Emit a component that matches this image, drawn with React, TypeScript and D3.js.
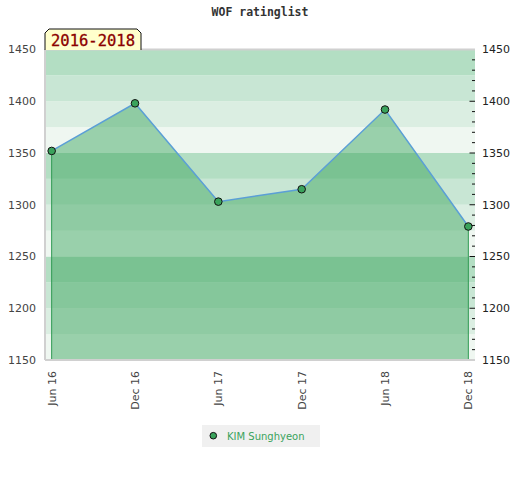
import * as d3 from 'd3';

const width = 520;
const height = 480;
const plotLeft = 45;
const plotRight = 475;
const plotTop = 49.5;
const plotBottom = 360;

const chartTitle = 'WOF ratinglist';
const periodLabel = '2016-2018';
const playerName = 'KIM Sunghyeon';
const months = ['Jun 16', 'Dec 16', 'Jun 17', 'Dec 17', 'Jun 18', 'Dec 18'];
const ratings = [1352, 1398, 1303, 1315, 1392, 1279];
const yDomain = [1150, 1450];
const yLabels = [1150, 1200, 1250, 1300, 1350, 1400, 1450];

// darkest -> lightest, repeating every 100 points
const bandColors = ['#b3dec3', '#c8e6d4', '#dbeee2', '#eff7f1'];
const green = '#3aa35c';

const x = d3.scalePoint<string>().domain(months).range([plotLeft, plotRight]).padding(0.08);
const y = d3.scaleLinear().domain(yDomain).range([plotBottom, plotTop]);

const bands = d3.range(yDomain[0], yDomain[1], 25);
const minorTicks = d3.range(yDomain[0] + 10, yDomain[1], 10);

type Pt = { m: string; v: number };
const points: Pt[] = months.map((m, i) => ({ m, v: ratings[i] }));
const edges = [points[0], points[points.length - 1]];

const area = d3
  .area<Pt>()
  .x((d) => x(d.m)!)
  .y0(y(yDomain[0]))
  .y1((d) => y(d.v));

const line = d3
  .line<Pt>()
  .x((d) => x(d.m)!)
  .y((d) => y(d.v));

const sans = '"DejaVu Sans", Verdana, sans-serif';
const mono = '"DejaVu Sans Mono", monospace';

export default function App() {
  return (
    <svg
      width={width}
      height={height}
      style={{ position: 'absolute', left: 0, top: 0, background: '#fff' }}
    >
      {/* title */}
      <text
        x={260}
        y={16}
        textAnchor="middle"
        fontFamily={mono}
        fontWeight="bold"
        fontSize={11.5}
        fill="#333"
      >
        {chartTitle}
      </text>

      {/* background bands */}
      {bands.map((v) => (
        <rect
          key={v}
          x={plotLeft}
          y={y(v + 25)}
          width={plotRight - plotLeft}
          height={y(v) - y(v + 25)}
          fill={bandColors[3 - (((v - yDomain[0]) / 25) % 4)]}
        />
      ))}

      {/* area + line */}
      <path d={area(points)!} fill={green} fillOpacity={0.47} />
      {edges.map((d) => (
        <line
          key={d.m}
          x1={x(d.m)}
          x2={x(d.m)}
          y1={y(d.v)}
          y2={plotBottom}
          stroke="#2f9a52"
          strokeWidth={1}
        />
      ))}

      {/* frame */}
      <line x1={plotLeft} x2={plotRight} y1={plotTop} y2={plotTop} stroke="#d0d0d0" strokeWidth={2} />
      <line x1={plotLeft} x2={plotRight} y1={plotBottom} y2={plotBottom} stroke="#d0d0d0" strokeWidth={2} />
      <line x1={plotLeft} x2={plotLeft} y1={plotTop} y2={plotBottom} stroke="#d0d0d0" strokeWidth={2} />

      <path d={line(points)!} fill="none" stroke="#5b9fd6" strokeWidth={1.5} />
      {points.map((d) => (
        <circle key={d.m} cx={x(d.m)} cy={y(d.v)} r={3.8} fill={green} stroke="#111" strokeWidth={1} />
      ))}

      {/* left axis labels */}
      {yLabels.map((v) => (
        <text key={v} x={36} y={y(v)} dy="0.35em" textAnchor="end" fontFamily={sans} fontSize={11} fill="#444">
          {v}
        </text>
      ))}

      {/* right axis ticks and labels */}
      {minorTicks.map((v) => (
        <line
          key={v}
          x1={v % 50 === 0 ? 469.5 : 472}
          x2={475}
          y1={y(v)}
          y2={y(v)}
          stroke="#111"
          strokeWidth={1}
        />
      ))}
      {yLabels.map((v) => (
        <text key={v} x={482} y={y(v)} dy="0.35em" fontFamily={sans} fontSize={11} fill="#222">
          {v}
        </text>
      ))}

      {/* x labels */}
      {months.map((m) => (
        <text
          key={m}
          transform={`translate(${x(m)},371) rotate(-90)`}
          dy="0.35em"
          textAnchor="end"
          fontFamily={sans}
          fontSize={11}
          fill="#444"
        >
          {m}
        </text>
      ))}

      {/* period label */}
      <path d="M45,50 L45,33 L49,29 L137,29 L141,33 L141,50" fill="#ffffcc" stroke="#111" strokeWidth={1} />
      <text x={51} y={46} fontFamily={mono} fontSize={15.5} fill="#8b0000" stroke="#8b0000" strokeWidth={0.3}>
        {periodLabel}
      </text>

      {/* legend */}
      <rect x={202} y={425} width={118} height={22} fill="#f0f0f0" />
      <circle cx={213.3} cy={435.7} r={3.3} fill={green} stroke="#111" strokeWidth={1} />
      <text x={227} y={436} dy="0.35em" fontFamily={sans} fontSize={10} fill={green}>
        {playerName}
      </text>
    </svg>
  );
}
